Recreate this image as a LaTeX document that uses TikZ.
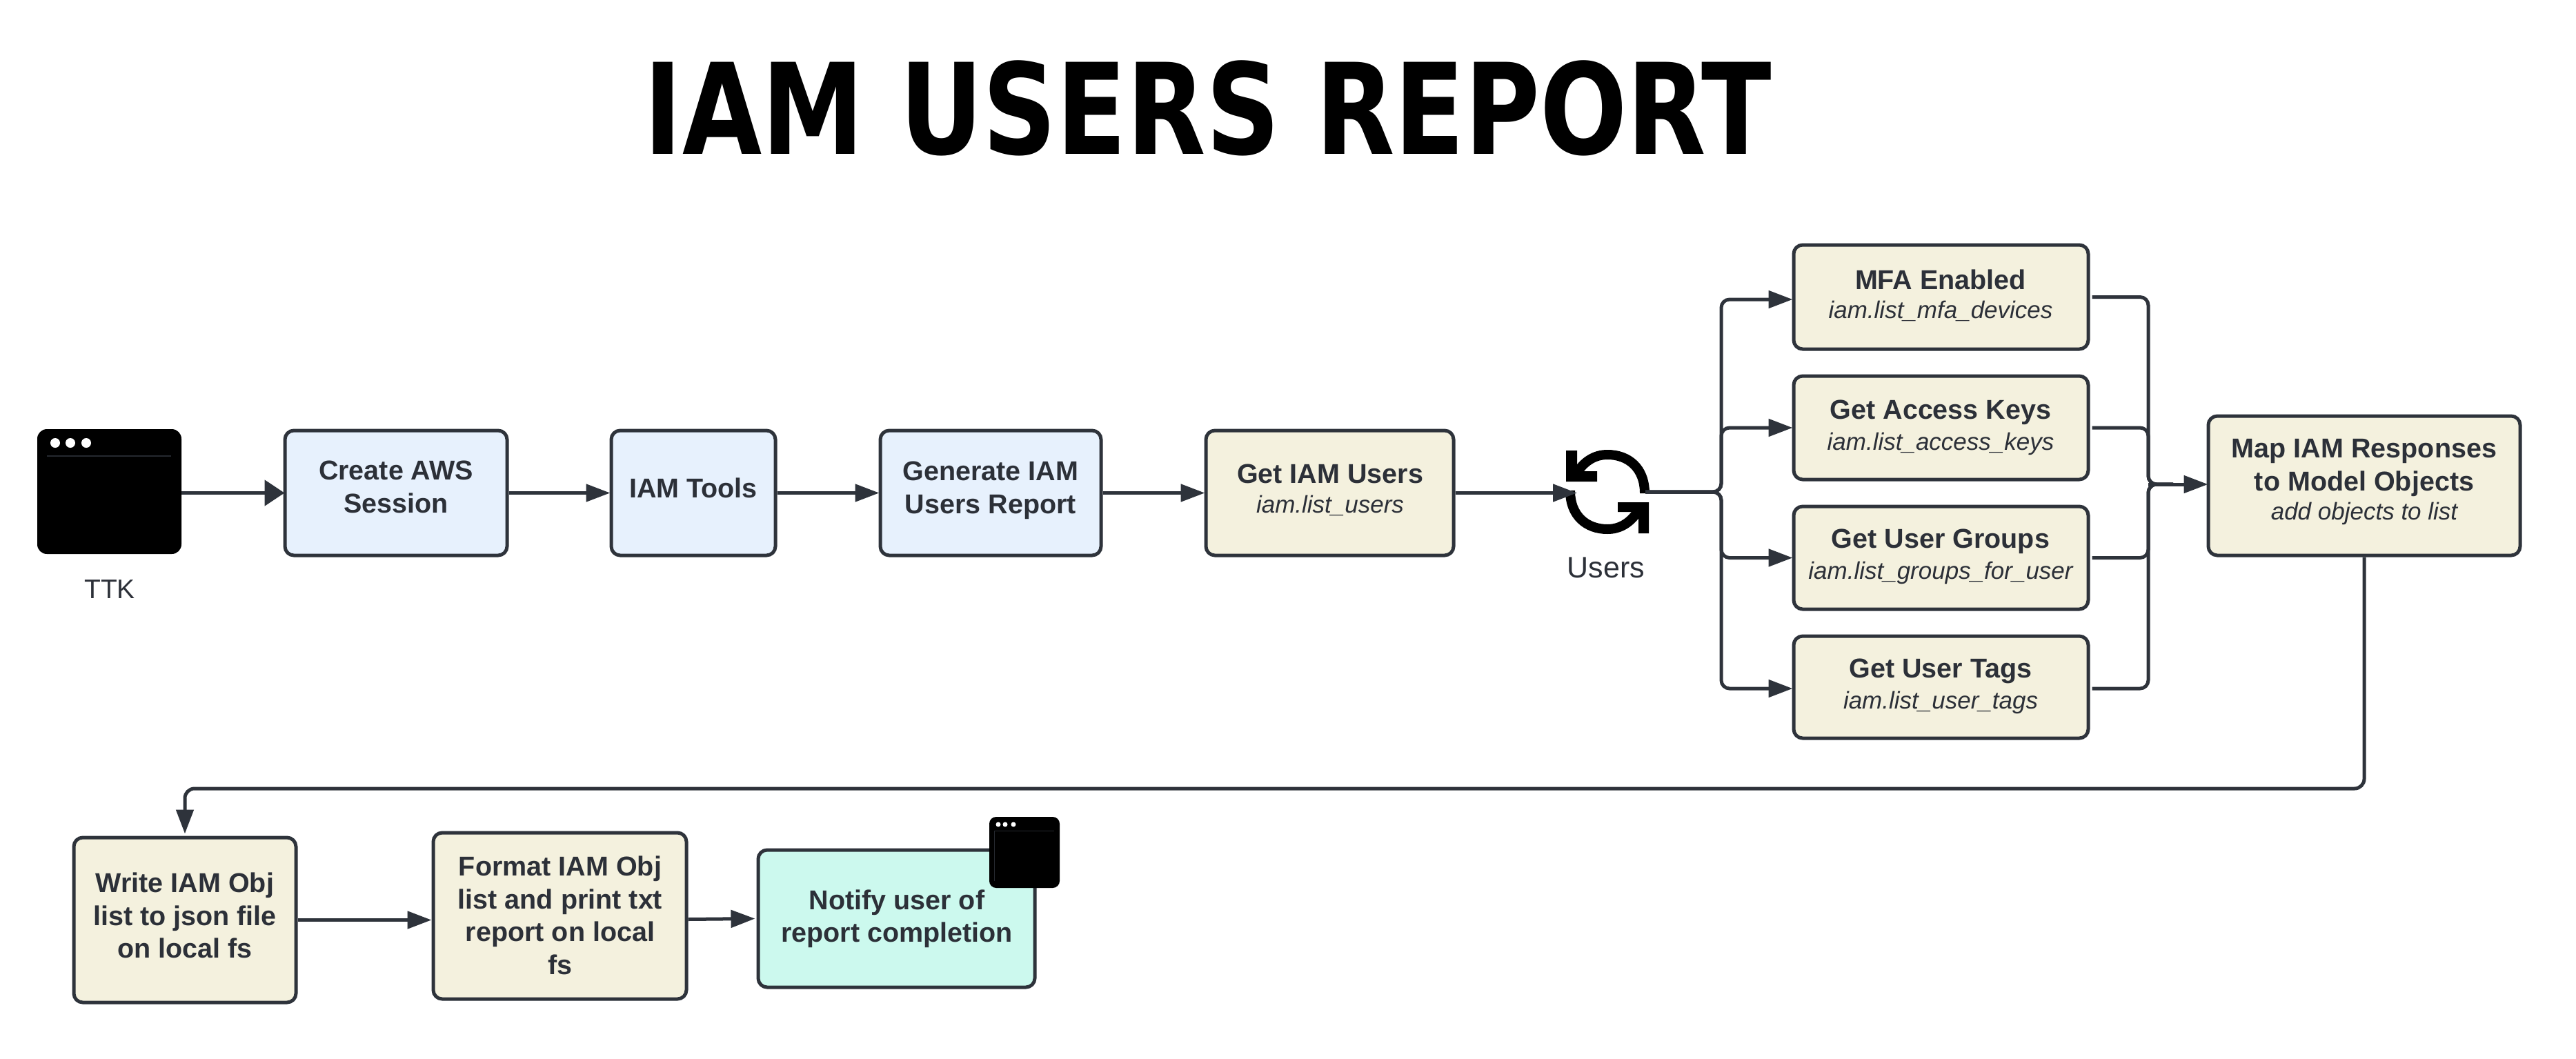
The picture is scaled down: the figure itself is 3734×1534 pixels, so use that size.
\documentclass[tikz,border=0pt]{standalone}
\usepackage{fontspec}
\setmainfont{Liberation Sans}
\newfontfamily\titlefont{DejaVu Sans}[BoldFont={* Bold}]
\usetikzlibrary{arrows.meta}
\definecolor{ink}{HTML}{2E333B}
\definecolor{txtc}{HTML}{2C3038}
\definecolor{bluef}{HTML}{E7F1FD}
\definecolor{creamf}{HTML}{F4F1DE}
\definecolor{mintf}{HTML}{CCF9EE}
\tikzset{
  flowbox/.style={draw=ink,line width=5pt,rounded corners=13pt,inner sep=0pt},
  bluebox/.style={flowbox,fill=bluef},
  creambox/.style={flowbox,fill=creamf},
  mintbox/.style={flowbox,fill=mintf},
  boxtext/.style={text=txtc,align=center,inner sep=0pt,font=\fontsize{39.5}{47.5}\selectfont\bfseries},
  subtext/.style={text=txtc,inner sep=0pt,font=\fontsize{35}{42}\selectfont\itshape},
  labeltext/.style={text=txtc,inner sep=0pt},
  conn/.style={draw=ink,line width=5pt,-{Triangle[length=35pt,width=25pt]}},
  connbig/.style={draw=ink,line width=5pt,-{Triangle[length=29pt,width=37pt]}},
  connplain/.style={draw=ink,line width=5pt},
  winicon/.style={fill=black,rounded corners=14pt,inner sep=0pt},
  windot/.style={fill=white,draw=none},
}
\newcommand{\placebox}[6]{% style,name,x1,y1,x2,y2
  \pgfmathsetmacro\bw{#5-#3}\pgfmathsetmacro\bh{#6-#4}
  \pgfmathsetmacro\bx{(#3+#5)/2}\pgfmathsetmacro\by{(#4+#6)/2}
  \node[#1,minimum width=\bw pt,minimum height=\bh pt] (#2) at (\bx,\by) {};
}
\begin{document}
\begin{tikzpicture}[x=1pt,y=-1pt]
\useasboundingbox (0,0) rectangle (3734,1534);
% title
\node[inner sep=0pt,xscale=.813,transform shape,text=black,font=\fontsize{183}{190}\selectfont\titlefont\bfseries] (title) at (1751,157) {IAM USERS REPORT};

% TTK window
\placebox{winicon}{ttk}{54}{622}{263}{803}
\fill[windot] (80,642) circle (7pt) (102,642) circle (7pt) (125,642) circle (7pt);
\draw[ink!80!black,line width=1.5pt] (68,661) -- (248,661);
\node[labeltext,font=\fontsize{39}{47}\selectfont] (ttklabel) at (159,854) {TTK};

% top row
\placebox{bluebox}{aws}{413}{624}{735}{805}
\node[boxtext] (awst) at (574,706) {Create AWS\\Session};
\placebox{bluebox}{tools}{886}{624}{1124}{805}
\node[boxtext] (toolst) at (1005,707) {IAM Tools};
\placebox{bluebox}{gen}{1276}{624}{1596}{805}
\node[boxtext] (gent) at (1436,711) {Generate IAM\\Users Report};
\placebox{creambox}{get}{1748}{624}{2107}{805}
\node[boxtext] (gett) at (1928,687) {Get IAM Users};
\node[subtext] (gets) at (1928,733) {iam.list\_users};

% sync icon
\draw[black,line width=14pt] (2384,715) .. controls (2384,678) and (2360,659) .. (2330,659) .. controls (2312,659) and (2296,668) .. (2284,688);
\draw[black,line width=14pt] (2276,711) .. controls (2276,748) and (2300,767) .. (2330,767) .. controls (2348,767) and (2364,758) .. (2376,738);
\fill[black] (2270,653) -- (2286,653) -- (2286,683) -- (2315,683) -- (2315,698) -- (2270,698) -- cycle;
\fill[black] (2390,773) -- (2375,773) -- (2375,742) -- (2345,742) -- (2345,728) -- (2390,728) -- cycle;
\coordinate (syncin) at (2286,714.5);
\coordinate (syncout) at (2385,713);
\coordinate (fanout) at (2495,713);
\coordinate (fanin) at (3114,702);
\node[labeltext,font=\fontsize{43}{50}\selectfont] (users) at (2328,823) {Users};

% branch boxes
\placebox{creambox}{mfa}{2600}{355}{3027}{506}
\node[boxtext] (mfat) at (2813,405) {MFA Enabled};
\node[subtext] (mfas) at (2813,451) {iam.list\_mfa\_devices};
\placebox{creambox}{keys}{2600}{545}{3027}{695}
\node[boxtext] (keyst) at (2813,598) {Get Access Keys};
\node[subtext] (keyss) at (2813,643) {iam.list\_access\_keys};
\placebox{creambox}{groups}{2600}{734}{3027}{883}
\node[boxtext] (groupst) at (2813,785) {Get User Groups};
\node[subtext] (groupss) at (2813,830) {iam.list\_groups\_for\_user};
\placebox{creambox}{tags}{2600}{922}{3027}{1070}
\node[boxtext] (tagst) at (2813,973) {Get User Tags};
\node[subtext] (tagss) at (2813,1018) {iam.list\_user\_tags};

% map box
\placebox{creambox}{map}{3201}{603}{3653}{805}
\node[boxtext] (mapt) at (3427,678) {Map IAM Responses\\to Model Objects};
\node[subtext] (maps) at (3427,744) {add objects to list};

% bottom row
\placebox{creambox}{write}{107}{1214}{429}{1453}
\node[boxtext] (writet) at (268,1327) {Write IAM Obj\\list to json file\\on local fs};
\placebox{creambox}{format}{628}{1207}{995}{1448}
\node[boxtext] (formatt) at (812,1327) {Format IAM Obj\\list and print txt\\report on local\\fs};
\placebox{mintbox}{notify}{1099}{1232}{1500}{1431}
\node[boxtext] (notifyt) at (1300,1332) {Notify user of\\report completion};
\placebox{winicon,rounded corners=10pt}{notifywin}{1434}{1184}{1536}{1287}
\fill[windot] (1447,1195) circle (3.5pt) (1457,1195) circle (3.5pt) (1469,1195) circle (3.5pt);
\draw[ink!80!black,line width=1pt] (1528,1204) -- (1441,1204) -- (1441,1277);

% connectors
\draw[connbig] ([yshift=-2pt]ttk.east) -- ([xshift=2pt]aws.west);
\draw[conn] (aws.east) -- ([xshift=1pt]tools.west);
\draw[conn] (tools.east) -- ([xshift=1pt]gen.west);
\draw[conn] (gen.east) -- ([xshift=1pt]get.west);
\draw[conn] (get.east) -- (syncin);
\draw[conn,rounded corners=12pt] (syncout) -- (fanout) |- ([xshift=1pt,yshift=-3.5pt]mfa.west);
\draw[conn,rounded corners=12pt] (syncout) -- (fanout) |- ([xshift=1pt]keys.west);
\draw[conn,rounded corners=12pt] (syncout) -- (fanout) |- ([xshift=1pt]groups.west);
\draw[conn,rounded corners=12pt] (syncout) -- (fanout) |- ([xshift=1pt,yshift=-2pt]tags.west);
\draw[connplain,rounded corners=12pt] ([xshift=3pt]mfa.east) -| (fanin) -- ([xshift=36pt]fanin);
\draw[connplain,rounded corners=12pt] ([xshift=3pt]keys.east) -| (fanin) -- ([xshift=36pt]fanin);
\draw[connplain,rounded corners=12pt] ([xshift=3pt]groups.east) -| (fanin) -- ([xshift=36pt]fanin);
\draw[connplain,rounded corners=12pt] ([xshift=3pt,yshift=-2pt]tags.east) -| (fanin) -- ([xshift=36pt]fanin);
\draw[conn] (fanin) -- ([xshift=2pt,yshift=2pt]map.west);
\coordinate (turn) at (map.south |- 0,1143);
\draw[conn,rounded corners=14pt] (map.south) -- (turn) -| ([yshift=3pt]write.north);
\draw[conn] (write.east) -- ([xshift=0pt,yshift=-6pt]format.west);
\draw[conn] ([yshift=-5pt]format.east) -- ([xshift=-2pt]notify.west);
\end{tikzpicture}
\end{document}
